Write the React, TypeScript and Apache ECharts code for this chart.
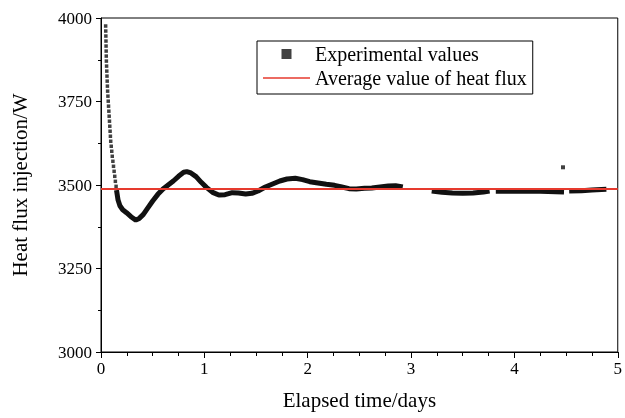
import React, { useEffect, useRef } from "react";
import * as echarts from "echarts";

// Axis ticks
const xTicks = [0, 1, 2, 3, 4, 5];
const yTicks = [3000, 3250, 3500, 3750, 4000];

// Sparse early measurements (time in days, heat flux in W)
const sparseDots: [number, number][] = [
  [0.045, 3976], [0.046, 3961], [0.047, 3946], [0.048, 3931], [0.049, 3916],
  [0.05, 3901], [0.051, 3886], [0.052, 3871], [0.054, 3856], [0.056, 3841],
  [0.058, 3826], [0.06, 3811], [0.062, 3796], [0.064, 3781], [0.067, 3766],
  [0.07, 3751], [0.073, 3736], [0.076, 3721], [0.079, 3706], [0.082, 3691],
  [0.085, 3676], [0.088, 3661], [0.091, 3646], [0.094, 3631], [0.099, 3616],
  [0.104, 3601], [0.109, 3586], [0.115, 3571], [0.121, 3556], [0.127, 3541],
  [0.133, 3526], [0.139, 3511], [0.146, 3496],
];

// Dense measurement segments
const segment1: [number, number][] = [
  [0.15, 3485], [0.165, 3455], [0.183, 3438], [0.21, 3426], [0.247, 3417], [0.29, 3405],
  [0.337, 3395], [0.37, 3400], [0.41, 3412], [0.45, 3430], [0.5, 3452],
  [0.55, 3472], [0.6, 3488], [0.65, 3500], [0.7, 3512], [0.75, 3526],
  [0.8, 3538], [0.83, 3540], [0.87, 3536], [0.92, 3525], [0.97, 3508],
  [1.02, 3493], [1.08, 3478], [1.14, 3470], [1.2, 3471], [1.27, 3477],
  [1.33, 3476], [1.4, 3473], [1.46, 3475], [1.52, 3482], [1.59, 3494],
  [1.66, 3503], [1.73, 3512], [1.8, 3518], [1.88, 3520], [1.95, 3516],
  [2.02, 3510], [2.1, 3506], [2.18, 3502], [2.26, 3499], [2.33, 3494],
  [2.4, 3489], [2.47, 3488], [2.55, 3490], [2.62, 3491], [2.7, 3494],
  [2.78, 3497], [2.85, 3498], [2.92, 3494],
];
const segment2: [number, number][] = [
  [3.2, 3482], [3.3, 3478], [3.4, 3476], [3.5, 3475], [3.6, 3476],
  [3.7, 3479], [3.76, 3482],
];
const segment3: [number, number][] = [
  [3.82, 3481], [3.95, 3481], [4.1, 3481], [4.25, 3481], [4.4, 3480], [4.48, 3479],
];
const segment4: [number, number][] = [
  [4.53, 3482], [4.65, 3483], [4.75, 3485], [4.89, 3487],
];
const outlier: [number, number][] = [[4.47, 3553]];

// Average heat flux
const averageValue = 3488;
const averageLine: [number, number][] = [[0, averageValue], [5, averageValue]];

const EXP = "Experimental values";
const AVG = "Average value of heat flux";
const FONT = "Liberation Serif";
const INK = "#000";

export default function App() {
  const ref = useRef<HTMLDivElement>(null);
  useEffect(() => {
    if (!ref.current) return;
    const chart = echarts.init(ref.current, undefined, { renderer: "svg" });
    const segStyle = (data: [number, number][]) => ({
      name: EXP,
      type: "line" as const,
      data,
      symbol: "none",
      color: "#111",
      lineStyle: { color: "#111", width: 5 },
      z: 2,
    });
    chart.setOption({
      animation: false,
      grid: {
        left: 101, right: 4, top: 18, bottom: 66,
        show: true, borderColor: "#000", borderWidth: 1,
      },
      legend: {
        orient: "vertical",
        left: 257, top: 41,
        borderColor: "#000", borderWidth: 1,
        padding: [3, 6, 6, 6],
        itemWidth: 47, itemHeight: 10, itemGap: 4,
        textStyle: { fontFamily: FONT, fontSize: 20, color: INK },
        data: [
          { name: EXP, icon: "path://M0 0H10V10H0Z" },
          { name: AVG, icon: "path://M0 0H47V1.6H0Z" },
        ],
      },
      xAxis: {
        type: "value",
        min: xTicks[0], max: xTicks[xTicks.length - 1], interval: 1,
        name: "Elapsed time/days", nameLocation: "middle", nameGap: 37,
        nameTextStyle: { fontFamily: FONT, fontSize: 21, color: INK },
        axisLine: { show: true, lineStyle: { color: "#000", width: 1 } },
        axisTick: { show: true, length: 6, lineStyle: { color: "#000" } },
        minorTick: { show: true, splitNumber: 4, length: 4, lineStyle: { color: "#000" } },
        splitLine: { show: false },
        axisLabel: { fontFamily: FONT, fontSize: 17, margin: 8, color: INK },
      },
      yAxis: {
        type: "value",
        min: yTicks[0], max: yTicks[yTicks.length - 1], interval: 250,
        name: "Heat flux injection/W", nameLocation: "middle", nameGap: 71,
        nameTextStyle: { fontFamily: FONT, fontSize: 21, color: INK },
        axisLine: { show: true, lineStyle: { color: "#000", width: 1 } },
        axisTick: { show: true, length: 5, lineStyle: { color: "#000" } },
        minorTick: { show: true, splitNumber: 2, length: 3, lineStyle: { color: "#000" } },
        splitLine: { show: false },
        axisLabel: {
          fontFamily: FONT, fontSize: 17, margin: 9, color: INK,
          formatter: (v: number) => "{a|" + v + "}",
          rich: { a: { fontFamily: FONT, fontSize: 17, color: INK } },
        },
      },
      series: [
        {
          name: EXP, type: "scatter", data: sparseDots,
          symbol: "rect", symbolSize: 3.5, color: "#111",
          itemStyle: { color: "#111" }, z: 2,
        },
        segStyle(segment1),
        segStyle(segment2),
        segStyle(segment3),
        segStyle(segment4),
        {
          name: EXP, type: "scatter", data: outlier,
          symbol: "rect", symbolSize: 4, color: "#111",
          itemStyle: { color: "#111" }, z: 2,
        },
        {
          name: AVG, type: "line", data: averageLine,
          symbol: "none", color: "#e63a2e",
          lineStyle: { color: "#e63a2e", width: 2 }, z: 3,
        },
      ],
    });
    return () => chart.dispose();
  }, []);
  return (
    <div
      ref={ref}
      style={{ position: "fixed", left: 0, top: 0, width: 625, height: 418 }}
    />
  );
}
